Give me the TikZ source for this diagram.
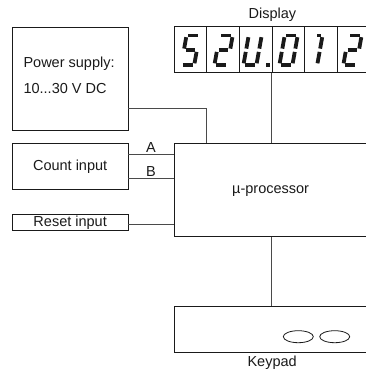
\documentclass[tikz,border=0pt]{standalone}
\usepackage{fontspec}
\setmainfont{Liberation Sans}
\usepackage{tikz}
\usetikzlibrary{calc,positioning}
\definecolor{Ink}{HTML}{1A1A1A}
\definecolor{Wire}{HTML}{4A4A4A}
\newcommand{\segdigit}[3]{%
  \begin{scope}[shift={(#1,#2)},xslant=0.18]
    \coordinate (s-a-1) at (1.7,-29.5);  \coordinate (s-a-2) at (11.3,-29.5);
    \coordinate (s-b-1) at (13,-27.8);   \coordinate (s-b-2) at (13,-16.4);
    \coordinate (s-c-1) at (13,-13.1);   \coordinate (s-c-2) at (13,-1.7);
    \coordinate (s-d-1) at (1.7,0);      \coordinate (s-d-2) at (11.3,0);
    \coordinate (s-e-1) at (0,-1.7);     \coordinate (s-e-2) at (0,-13.1);
    \coordinate (s-f-1) at (0,-16.4);    \coordinate (s-f-2) at (0,-27.8);
    \coordinate (s-g-1) at (1.7,-14.75); \coordinate (s-g-2) at (11.3,-14.75);
    \coordinate (s-h-1) at (7.5,-29.5);  \coordinate (s-h-2) at (11.3,-29.5);
    \foreach \s in {#3} {\draw[segment] (s-\s-1)--(s-\s-2);}
  \end{scope}}

\begin{document}
\begin{tikzpicture}[
  x=1pt,y=-1pt,
  box/.style={draw=Ink,line width=0.8pt,inner sep=0pt},
  wire/.style={draw=Wire,line width=0.8pt},
  segment/.style={line width=3.8pt,color=Ink},
  label/.style={font=\fontsize{14.5}{17}\selectfont,color=Ink}
]
\clip (0,0) rectangle (366,377);

% left column
\node[box,minimum width=115.5,minimum height=103,anchor=north west] (power) at (12,27) {};
\node[label,anchor=base west] (pwrtop) at ($(power.north west)+(8,41)$) {Power supply:};
\node[label,anchor=base west] (pwrvolt) at ($(power.north west)+(8,67)$) {10...30 V DC};
\node[box,label,minimum width=115.5,minimum height=46,anchor=north west] (count) at (12,143) {Count input};
\node[box,label,minimum width=115.5,minimum height=16,anchor=north west] (reset) at (12,214) {Reset input};

% display
\foreach \i in {1,...,6}
  \node[box,minimum width=32.7,minimum height=45.5,anchor=north west] (d\i) at ({173.5+32.7*(\i-1)},26.3) {};
\node[label,anchor=base] (displbl) at ($(d3.north east)+(0,-7.3)$) {Display};
\segdigit{181.2}{65}{a,f,g,c,d}
\segdigit{214.4}{65}{a,b,g,e,d}
\segdigit{243.4}{65}{b,c,d,e,f}
\fill[Ink] (266.4,62.6) rectangle (270.0,66.8);
\segdigit{279.4}{65}{a,b,c,d,e,f}
\segdigit{304.2}{65}{h,b,c}
\segdigit{343.3}{65}{a,b,g,e,d}

% processor and keypad
\node[box,label,minimum width=193.5,minimum height=93,text height=10.5,text depth=3,anchor=north west] (proc) at (173.5,143) {µ-processor};
\node[box,minimum width=196.5,minimum height=46,anchor=north west] (keypad) at (173.5,306) {};
\node[label,anchor=base] (keylbl) at ($(keypad.south)+(0,14)$) {Keypad};
\draw[box] (298.3,336.7) ellipse (15 and 6);
\draw[box] (334.7,336.7) ellipse (15 and 6);

% wires
\draw[wire] ([yshift=22pt]power.south east) -| (proc.north -| d2.south west);
\draw[wire] (d4.south west) -- (d4.south west |- proc.north);
\draw[wire] ([yshift=-11pt]count.north east) coordinate (ina) -- (ina -| proc.west)
  node[label,midway,above,inner sep=1.5pt] {A};
\draw[wire] ([yshift=11pt]count.south east) coordinate (inb) -- (inb -| proc.west)
  node[label,midway,above,inner sep=1.5pt] {B};
\draw[wire] ([yshift=-2pt]reset.east) coordinate (inr) -- (inr -| proc.west);
\draw[wire] (proc.south -| d4.south west) -- (keypad.north -| d4.south west);
\end{tikzpicture}
\end{document}
